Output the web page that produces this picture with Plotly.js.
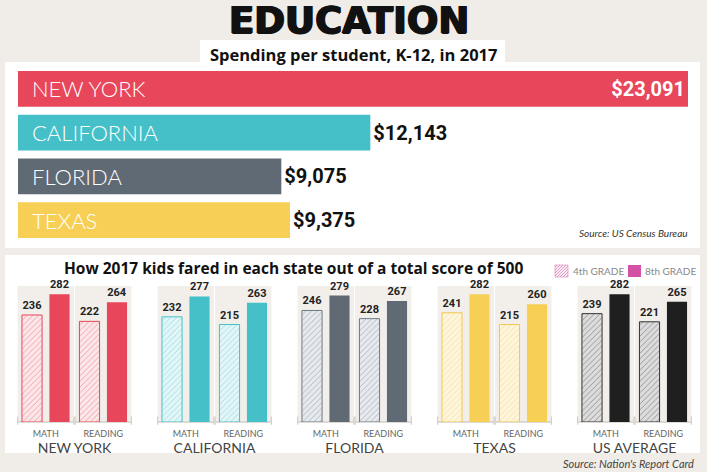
<!DOCTYPE html>
<html>
<head>
<meta charset="utf-8">
<script src="https://cdn.plot.ly/plotly-3.0.1.min.js"></script>
<style>html,body{margin:0;padding:0;background:#f0ede9;overflow:hidden;}#chart{width:707px;height:472px;}</style>
</head>
<body>
<div id="chart"></div>
<script>
// ---- data ----
const states = ['NEW YORK', 'CALIFORNIA', 'FLORIDA', 'TEXAS'];
const spending = [23091, 12143, 9075, 9375];
const scoreGroups = ['NEW YORK', 'CALIFORNIA', 'FLORIDA', 'TEXAS', 'US AVERAGE'];
const subjects = ['MATH', 'READING'];
const grade4Math = [236, 232, 246, 241, 239];
const grade8Math = [282, 277, 279, 282, 282];
const grade4Reading = [222, 215, 228, 215, 221];
const grade8Reading = [264, 263, 267, 260, 265];
const legendLabels = ['4th GRADE', '8th GRADE'];

// ---- style ----
const W = 707, H = 472;
const px = v => v / W;
const py = v => 1 - v / H;
const solid = ['#e8465a', '#45c0c8', '#5f6a75', '#f8cf55', '#1f1f1f'];
const pale = ['#fbe6e8', '#e3f6f7', '#e6e9ed', '#fdf5dc', '#dcdcdc'];
const hatch = ['#e8465a', '#45c0c8', '#6f7a85', '#f0c850', '#333333'];
const panelBg = '#f2efeb';
const numFont = {family: 'Roboto', size: 11, color: '#222', weight: 'bold'};

const traces = [];
const maxSpend = Math.max(...spending);
traces.push({
  type: 'bar', orientation: 'h', xaxis: 'x', yaxis: 'y',
  y: states, x: spending, width: 0.82,
  marker: {color: solid.slice(0, 4)},
  text: spending.map(v => '$' + v.toLocaleString('en-US')),
  textposition: spending.map(v => v === maxSpend ? 'inside' : 'outside'),
  insidetextanchor: 'end',
  insidetextfont: {family: 'Roboto', size: 20, color: '#ffffff', weight: 'bold'},
  outsidetextfont: {family: 'Roboto', size: 20, color: '#111', weight: 'bold'},
  constraintext: 'none', cliponaxis: false,
  hoverinfo: 'skip', showlegend: false
});

const layout = {
  width: W, height: H,
  margin: {l: 0, r: 0, t: 0, b: 0, autoexpand: false},
  paper_bgcolor: '#f0ede9', plot_bgcolor: 'rgba(0,0,0,0)',
  barmode: 'overlay',
  showlegend: false,
  xaxis: {domain: [px(18), px(688)], range: [0, maxSpend], visible: false, fixedrange: true},
  yaxis: {domain: [py(242), py(67)], autorange: 'reversed', visible: false, type: 'category'},
  shapes: [
    {type: 'rect', xref: 'paper', yref: 'paper', x0: px(200), x1: px(505), y0: py(62), y1: py(40), fillcolor: '#fff', line: {width: 0}, layer: 'below'},
    {type: 'rect', xref: 'paper', yref: 'paper', x0: px(5), x1: px(700), y0: py(248), y1: py(62), fillcolor: '#fff', line: {width: 0}, layer: 'below'},
    {type: 'rect', xref: 'paper', yref: 'paper', x0: px(5), x1: px(700), y0: py(453), y1: py(255), fillcolor: '#fff', line: {width: 0}, layer: 'below'}
  ],
  annotations: [
    {text: 'EDUCATION', xref: 'paper', yref: 'paper', x: px(349), y: py(20), showarrow: false,
     font: {family: 'DejaVu Sans', size: 37, color: '#111', weight: 'bold',
            shadow: '0.9px 0 0 #111, -0.9px 0 0 #111, 0 0.6px 0 #111'},
     xanchor: 'center', yanchor: 'middle'},
    {text: 'Spending per student, K-12, in 2017', xref: 'paper', yref: 'paper', x: px(353), y: py(54), showarrow: false,
     font: {family: 'Open Sans', size: 16.5, color: '#111', weight: 'bold'}, xanchor: 'center', yanchor: 'middle'},
    {text: '<i>Source: US Census Bureau</i>', xref: 'paper', yref: 'paper', x: px(690), y: py(233), showarrow: false,
     font: {family: 'Lato', size: 10, color: '#333'}, xanchor: 'right', yanchor: 'middle'},
    {text: 'How 2017 kids fared in each state out of a total score of 500', xref: 'paper', yref: 'paper', x: px(293), y: py(268), showarrow: false,
     font: {family: 'Open Sans', size: 15.5, color: '#111', weight: 'bold'}, xanchor: 'center', yanchor: 'middle'},
    {text: "<i>Source: Nation's Report Card</i>", xref: 'paper', yref: 'paper', x: px(696), y: py(463), showarrow: false,
     font: {family: 'Lato', size: 11, color: '#444'}, xanchor: 'right', yanchor: 'middle'}
  ]
};

// state labels inside top bars
states.forEach(s => {
  layout.annotations.push({text: s, xref: 'x', yref: 'y', x: 0, y: s, xanchor: 'left', yanchor: 'middle',
    xshift: 12, showarrow: false, font: {family: 'Lato', size: 22, color: '#ffffff', weight: 300}});
});

// manual legend (hatched swatch + solid swatch)
(function () {
  const x0 = 555, x1 = 568, yt = 265, yb = 277, h = yb - yt;
  layout.shapes.push({type: 'rect', xref: 'paper', yref: 'paper', x0: px(x0), x1: px(x1), y0: py(yb), y1: py(yt),
    fillcolor: '#fcecf5', line: {color: '#dfa0c8', width: 0.8}});
  for (let t = x0 - h + 2; t < x1; t += 3) {
    let sx = t, sy = yb, ex = t + h, ey = yt;
    if (sx < x0) { sy = yb - (x0 - sx); sx = x0; }
    if (ex > x1) { ey = yt + (ex - x1); ex = x1; }
    layout.shapes.push({type: 'line', xref: 'paper', yref: 'paper', x0: px(sx), y0: py(sy), x1: px(ex), y1: py(ey),
      line: {color: '#d98cbd', width: 0.8}});
  }
  layout.shapes.push({type: 'rect', xref: 'paper', yref: 'paper', x0: px(628), x1: px(641), y0: py(277), y1: py(265),
    fillcolor: '#d452a5', line: {width: 0}});
  layout.annotations.push({text: legendLabels[0], xref: 'paper', yref: 'paper', x: px(571), y: py(271), xanchor: 'left', yanchor: 'middle',
    showarrow: false, font: {family: 'Lato', size: 10, color: '#888'}});
  layout.annotations.push({text: legendLabels[1], xref: 'paper', yref: 'paper', x: px(643), y: py(271), xanchor: 'left', yanchor: 'middle',
    showarrow: false, font: {family: 'Lato', size: 10, color: '#888'}});
})();

// bottom grouped panels
scoreGroups.forEach((g, i) => {
  const n = i + 2;
  const xa = 'x' + n, ya = 'y' + n;
  const left = 17 + 140 * i;
  layout['xaxis' + n] = {
    domain: [px(left), px(left + 115)], anchor: ya, type: 'category', range: [-0.5, 1.5],
    showgrid: false, zeroline: false, showline: false, ticks: '', fixedrange: true,
    tickfont: {family: 'Lato', size: 9, color: '#666'}, ticklabelstandoff: 5,
    title: {text: g, font: {family: 'Lato', size: 14, color: '#444'}, standoff: 3}
  };
  layout['yaxis' + n] = {
    domain: [py(422), py(286)], anchor: xa, range: [0, 300], visible: false, fixedrange: true
  };
  [0, 1].forEach(k => {
    layout.shapes.push({type: 'rect', xref: xa, yref: ya + ' domain', x0: k - 0.49, x1: k + 0.49, y0: 0, y1: 1,
      fillcolor: panelBg, line: {width: 0}, layer: 'below'});
    layout.shapes.push({type: 'line', xref: xa, yref: ya + ' domain', x0: k - 0.49, x1: k + 0.49, y0: 0, y1: 0,
      line: {color: '#d3cfc9', width: 1.5}, layer: 'below'});
    [-0.49, 0.49].forEach(e => layout.shapes.push({type: 'line', xref: xa, yref: ya + ' domain', x0: k + e, x1: k + e, y0: -0.02, y1: 0.04,
      line: {color: '#d3cfc9', width: 1.2}, layer: 'below'}));
  });
  traces.push({
    type: 'bar', xaxis: xa, yaxis: ya, x: subjects, y: [grade4Math[i], grade4Reading[i]],
    width: 0.35, offset: -0.414,
    marker: {color: pale[i], line: {color: hatch[i], width: 1},
             pattern: {shape: '/', fgcolor: hatch[i], bgcolor: pale[i], fgopacity: 0.55, size: 4, solidity: 0.18}},
    text: [grade4Math[i], grade4Reading[i]].map(String), textposition: 'outside', textfont: numFont,
    cliponaxis: false, hoverinfo: 'skip', showlegend: false
  });
  traces.push({
    type: 'bar', xaxis: xa, yaxis: ya, x: subjects, y: [grade8Math[i], grade8Reading[i]],
    width: 0.35, offset: 0.064,
    marker: {color: solid[i]},
    text: [grade8Math[i], grade8Reading[i]].map(String), textposition: 'outside', textfont: numFont,
    cliponaxis: false, hoverinfo: 'skip', showlegend: false
  });
});

Plotly.newPlot('chart', traces, layout, {displayModeBar: false, staticPlot: true});
</script>
</body>
</html>
